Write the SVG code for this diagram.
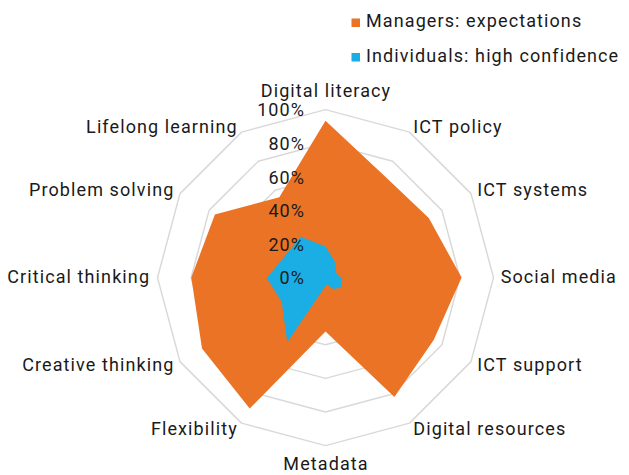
<svg xmlns="http://www.w3.org/2000/svg" width="629" height="475" viewBox="0 0 629 475">
<style>
text{font-family:Roboto,"Liberation Sans",sans-serif;font-size:18px;letter-spacing:1.1px;fill:#1a1a1a}
.ring{fill:none;stroke:#d9d9d9;stroke-width:1.5;stroke-linejoin:round}
.s{text-anchor:start}.e{text-anchor:end}.m{text-anchor:middle}
</style>
<rect width="629" height="475" fill="#ffffff"/>
<g id="grid" transform="translate(325.5,277.6)">
<polygon class="ring" points="0,-168 84,-145.5 145.5,-84 168,0 145.5,84 84,145.5 0,168 -84,145.5 -145.5,84 -168,0 -145.5,-84 -84,-145.5"/>
<polygon class="ring" points="0,-134.4 67.2,-116.4 116.4,-67.2 134.4,0 116.4,67.2 67.2,116.4 0,134.4 -67.2,116.4 -116.4,67.2 -134.4,0 -116.4,-67.2 -67.2,-116.4"/>
<polygon class="ring" points="0,-100.8 50.4,-87.3 87.3,-50.4 100.8,0 87.3,50.4 50.4,87.3 0,100.8 -50.4,87.3 -87.3,50.4 -100.8,0 -87.3,-50.4 -50.4,-87.3"/>
<polygon class="ring" points="0,-67.2 33.6,-58.2 58.2,-33.6 67.2,0 58.2,33.6 33.6,58.2 0,67.2 -33.6,58.2 -58.2,33.6 -67.2,0 -58.2,-33.6 -33.6,-58.2"/>
<polygon class="ring" points="0,-33.6 16.8,-29.1 29.1,-16.8 33.6,0 29.1,16.8 16.8,29.1 0,33.6 -16.8,29.1 -29.1,16.8 -33.6,0 -29.1,-16.8 -16.8,-29.1"/>
</g>
<g id="series" transform="translate(325.5,277.6)">
<polygon id="managers" fill="#eb7325" points="0,-156.8 58.8,-101.8 103.3,-59.6 136.1,0 108.2,62.5 68.9,119.3 0,54 -75.8,131 -123.5,71 -134.2,0 -110.6,-63.2 -46.2,-80.4"/>
<polygon id="individuals" fill="#1aaee4" points="0,-31 9.5,-15.9 11,-3.5 16.8,0.7 15.5,10.1 7.8,11.4 1.2,6.7 -38.2,64.7 -43.8,24.1 -58.8,0.5 -39.5,-22.8 -24.8,-40.9"/>
</g>
<g id="ticks">
<text class="e" x="305.1" y="284.3">0%</text>
<text class="e" x="305.1" y="250.7">20%</text>
<text class="e" x="305.1" y="217.1">40%</text>
<text class="e" x="305.1" y="183.5">60%</text>
<text class="e" x="305.1" y="150">80%</text>
<text class="e" x="305.1" y="116.4">100%</text>
</g>
<g id="axis-labels">
<g id="digital-literacy"><text class="m" x="326" y="97">Digital literacy</text></g>
<g id="ict-policy"><text class="s" x="413.3" y="132.5">ICT policy</text></g>
<g id="ict-systems"><text class="s" x="477.3" y="196.3">ICT systems</text></g>
<g id="social-media"><text class="s" x="500.7" y="283">Social media</text></g>
<g id="ict-support"><text class="s" x="477.3" y="371">ICT support</text></g>
<g id="digital-resources"><text class="s" x="413.3" y="434.5">Digital resources</text></g>
<g id="metadata"><text class="m" x="326" y="469.7">Metadata</text></g>
<g id="flexibility"><text class="e" x="237.8" y="434.5">Flexibility</text></g>
<g id="creative-thinking"><text class="e" x="174.4" y="371">Creative thinking</text></g>
<g id="critical-thinking"><text class="e" x="150.1" y="283">Critical thinking</text></g>
<g id="problem-solving"><text class="e" x="174.4" y="196.3">Problem solving</text></g>
<g id="lifelong-learning"><text class="e" x="237.8" y="132.5">Lifelong learning</text></g>
</g>
<g id="legend">
<rect x="351.5" y="18.5" width="8.5" height="8.5" fill="#eb7325"/>
<text class="s" x="366" y="26.5">Managers: expectations</text>
<rect x="351.5" y="53" width="8.5" height="8.5" fill="#1aaee4"/>
<text class="s" x="366" y="62">Individuals: high confidence</text>
</g>
</svg>
